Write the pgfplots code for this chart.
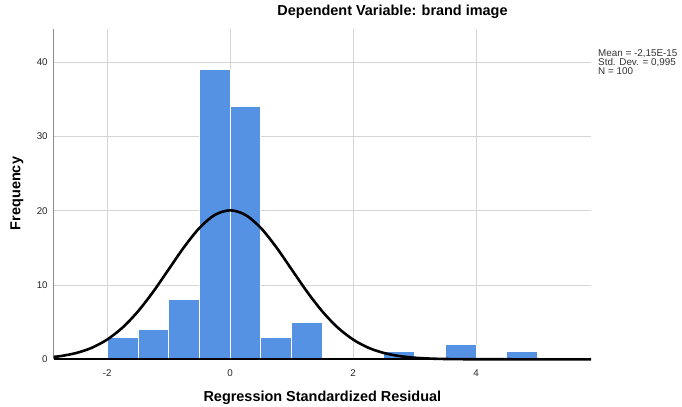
\documentclass[border=0pt]{standalone}
\usepackage{pgfplots}
\pgfplotsset{compat=1.18}
\usepackage{fontspec}
\setmainfont{Liberation Sans}

\definecolor{barblue}{RGB}{86,146,227}
\definecolor{gridgray}{RGB}{212,212,212}
\definecolor{axgray}{RGB}{140,140,140}
\definecolor{baseline}{RGB}{166,166,166}

\begin{document}
\begin{tikzpicture}
\begin{axis}[
  name=ax,
  scale only axis,
  width=537.3bp, height=330.3bp,
  xmin=-2.87, xmax=5.87,
  ymin=0, ymax=44.45,
  axis x line*=bottom, axis y line*=left,
  x axis line style={draw=baseline, line width=1.8bp, -},
  y axis line style={draw=axgray, line width=0.9bp, -},
  xtick={-2,0,2,4}, xticklabels={-2,0,2,4},
  ytick={0,10,20,30,40}, yticklabels={0,10,20,30,40},
  major tick length=0pt,
  grid=major,
  major grid style={draw=gridgray, line width=0.9bp},
  ticklabel style={font=\fontsize{9.8}{11}\selectfont, text=black!85},
  xticklabel style={yshift=-6.5bp},
  yticklabel style={xshift=-2.5bp},
  xlabel={Regression Standardized Residual},
  ylabel={Frequency},
  label style={font=\bfseries\fontsize{14.5}{17}\selectfont},
  xlabel style={at={(axis description cs:0.5,-0.1157)}, anchor=center},
  ylabel style={at={(axis description cs:-0.0683,0.502)}, anchor=center},
  title={Dependent Variable: brand image},
  title style={font=\bfseries\fontsize{14.5}{17}\selectfont,
    at={(axis description cs:0.6306,1.0348)}, anchor=center},
  clip=false,
]
% histogram bins of width 0.5
\addplot[ybar interval, fill=barblue, draw=white, line width=0.8bp]
  coordinates {(-2,3) (-1.5,4) (-1,8) (-0.5,39) (0,34) (0.5,3) (1,5) (1.5,5)};
\addplot[ybar interval, fill=barblue, draw=white, line width=0.8bp]
  coordinates {(2.5,1) (3,1)};
\addplot[ybar interval, fill=barblue, draw=white, line width=0.8bp]
  coordinates {(3.5,2) (4,2)};
\addplot[ybar interval, fill=barblue, draw=white, line width=0.8bp]
  coordinates {(4.5,1) (5,1)};

\draw[baseline, line width=1.8bp] (axis cs:-2.87,0) -- (axis cs:5.87,0);

% normal curve, N=100, bin 0.5, sd 0.995
\addplot[black, line width=2.6bp, smooth] coordinates {
  (-2.87,0.33) (-2.75,0.44) (-2.5,0.854) (-2.25,1.55) (-2,2.66)
  (-1.75,4.27) (-1.5,6.44) (-1.25,9.11) (-1,12.10) (-0.75,15.09)
  (-0.5,17.67) (-0.25,19.43) (0,20.05) (0.25,19.43) (0.5,17.67)
  (0.75,15.09) (1,12.10) (1.25,9.11) (1.5,6.44) (1.75,4.27)
  (2,2.66) (2.25,1.55) (2.5,0.854) (2.75,0.44) (3,0.213)
  (3.25,0.097) (3.5,0.041) (3.75,0.016) (4,0.006) (4.5,0.0003)
  (5,0) (5.87,0)};

\node[anchor=north west, inner sep=0pt, align=left, text=black!80,
  font=\fontsize{9.9}{9.3}\selectfont]
  at (axis description cs:1.013,0.9385)
  {Mean = -2,15E-15\\Std. Dev. = 0,995\\N = 100};
\end{axis}
\pgfresetboundingbox
\path[use as bounding box] ([shift={(-53.7bp,-47.7bp)}]ax.south west)
  rectangle ([shift={(91bp,29bp)}]ax.north east);
\end{tikzpicture}
\end{document}
